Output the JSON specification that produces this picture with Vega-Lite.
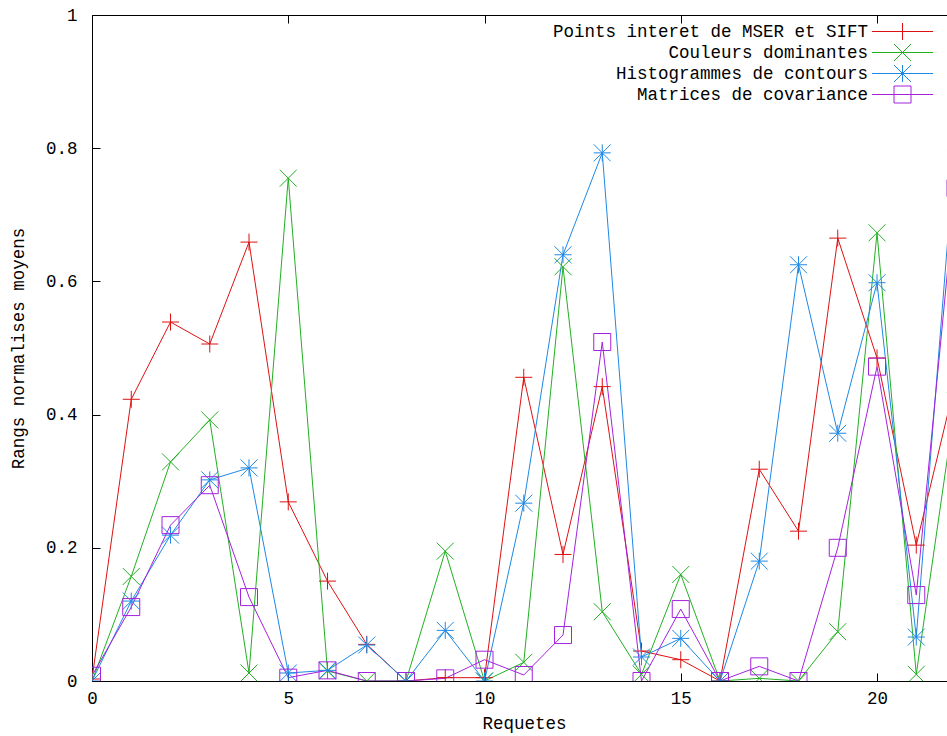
{
  "$schema": "https://vega.github.io/schema/vega-lite/v6.json",
  "autosize": {"type": "none"},
  "padding": {"left": 92, "top": 15, "right": 0, "bottom": 55},
  "width": 855,
  "height": 666,
  "background": "white",
  "data": {"values": [
    {"s": "Points interet de MSER et SIFT", "x": 0, "y": 0.003},
    {"s": "Points interet de MSER et SIFT", "x": 1, "y": 0.423},
    {"s": "Points interet de MSER et SIFT", "x": 2, "y": 0.539},
    {"s": "Points interet de MSER et SIFT", "x": 3, "y": 0.506},
    {"s": "Points interet de MSER et SIFT", "x": 4, "y": 0.659},
    {"s": "Points interet de MSER et SIFT", "x": 5, "y": 0.269},
    {"s": "Points interet de MSER et SIFT", "x": 6, "y": 0.15},
    {"s": "Points interet de MSER et SIFT", "x": 7, "y": 0.055},
    {"s": "Points interet de MSER et SIFT", "x": 8, "y": 0.0},
    {"s": "Points interet de MSER et SIFT", "x": 9, "y": 0.005},
    {"s": "Points interet de MSER et SIFT", "x": 10, "y": 0.005},
    {"s": "Points interet de MSER et SIFT", "x": 11, "y": 0.456},
    {"s": "Points interet de MSER et SIFT", "x": 12, "y": 0.19},
    {"s": "Points interet de MSER et SIFT", "x": 13, "y": 0.442},
    {"s": "Points interet de MSER et SIFT", "x": 14, "y": 0.045},
    {"s": "Points interet de MSER et SIFT", "x": 15, "y": 0.032},
    {"s": "Points interet de MSER et SIFT", "x": 16, "y": 0.0},
    {"s": "Points interet de MSER et SIFT", "x": 17, "y": 0.318},
    {"s": "Points interet de MSER et SIFT", "x": 18, "y": 0.225},
    {"s": "Points interet de MSER et SIFT", "x": 19, "y": 0.665},
    {"s": "Points interet de MSER et SIFT", "x": 20, "y": 0.485},
    {"s": "Points interet de MSER et SIFT", "x": 21, "y": 0.204},
    {"s": "Points interet de MSER et SIFT", "x": 22, "y": 0.45},
    {"s": "Couleurs dominantes", "x": 0, "y": 0.0},
    {"s": "Couleurs dominantes", "x": 1, "y": 0.157},
    {"s": "Couleurs dominantes", "x": 2, "y": 0.329},
    {"s": "Couleurs dominantes", "x": 3, "y": 0.392},
    {"s": "Couleurs dominantes", "x": 4, "y": 0.012},
    {"s": "Couleurs dominantes", "x": 5, "y": 0.755},
    {"s": "Couleurs dominantes", "x": 6, "y": 0.015},
    {"s": "Couleurs dominantes", "x": 7, "y": 0.0},
    {"s": "Couleurs dominantes", "x": 8, "y": 0.0},
    {"s": "Couleurs dominantes", "x": 9, "y": 0.195},
    {"s": "Couleurs dominantes", "x": 10, "y": 0.0},
    {"s": "Couleurs dominantes", "x": 11, "y": 0.028},
    {"s": "Couleurs dominantes", "x": 12, "y": 0.622},
    {"s": "Couleurs dominantes", "x": 13, "y": 0.104},
    {"s": "Couleurs dominantes", "x": 14, "y": 0.01},
    {"s": "Couleurs dominantes", "x": 15, "y": 0.16},
    {"s": "Couleurs dominantes", "x": 16, "y": 0.0},
    {"s": "Couleurs dominantes", "x": 17, "y": 0.004},
    {"s": "Couleurs dominantes", "x": 18, "y": 0.0},
    {"s": "Couleurs dominantes", "x": 19, "y": 0.074},
    {"s": "Couleurs dominantes", "x": 20, "y": 0.673},
    {"s": "Couleurs dominantes", "x": 21, "y": 0.01},
    {"s": "Couleurs dominantes", "x": 22, "y": 0.42},
    {"s": "Histogrammes de contours", "x": 0, "y": 0.0},
    {"s": "Histogrammes de contours", "x": 1, "y": 0.12},
    {"s": "Histogrammes de contours", "x": 2, "y": 0.219},
    {"s": "Histogrammes de contours", "x": 3, "y": 0.302},
    {"s": "Histogrammes de contours", "x": 4, "y": 0.32},
    {"s": "Histogrammes de contours", "x": 5, "y": 0.012},
    {"s": "Histogrammes de contours", "x": 6, "y": 0.016},
    {"s": "Histogrammes de contours", "x": 7, "y": 0.054},
    {"s": "Histogrammes de contours", "x": 8, "y": 0.0},
    {"s": "Histogrammes de contours", "x": 9, "y": 0.076},
    {"s": "Histogrammes de contours", "x": 10, "y": 0.0},
    {"s": "Histogrammes de contours", "x": 11, "y": 0.267},
    {"s": "Histogrammes de contours", "x": 12, "y": 0.64},
    {"s": "Histogrammes de contours", "x": 13, "y": 0.793},
    {"s": "Histogrammes de contours", "x": 14, "y": 0.036},
    {"s": "Histogrammes de contours", "x": 15, "y": 0.064},
    {"s": "Histogrammes de contours", "x": 16, "y": 0.0},
    {"s": "Histogrammes de contours", "x": 17, "y": 0.18},
    {"s": "Histogrammes de contours", "x": 18, "y": 0.625},
    {"s": "Histogrammes de contours", "x": 19, "y": 0.372},
    {"s": "Histogrammes de contours", "x": 20, "y": 0.598},
    {"s": "Histogrammes de contours", "x": 21, "y": 0.066},
    {"s": "Histogrammes de contours", "x": 22, "y": 0.81},
    {"s": "Matrices de covariance", "x": 0, "y": 0.008},
    {"s": "Matrices de covariance", "x": 1, "y": 0.111},
    {"s": "Matrices de covariance", "x": 2, "y": 0.234},
    {"s": "Matrices de covariance", "x": 3, "y": 0.294},
    {"s": "Matrices de covariance", "x": 4, "y": 0.126},
    {"s": "Matrices de covariance", "x": 5, "y": 0.005},
    {"s": "Matrices de covariance", "x": 6, "y": 0.016},
    {"s": "Matrices de covariance", "x": 7, "y": 0.0},
    {"s": "Matrices de covariance", "x": 8, "y": 0.0},
    {"s": "Matrices de covariance", "x": 9, "y": 0.004},
    {"s": "Matrices de covariance", "x": 10, "y": 0.032},
    {"s": "Matrices de covariance", "x": 11, "y": 0.009},
    {"s": "Matrices de covariance", "x": 12, "y": 0.069},
    {"s": "Matrices de covariance", "x": 13, "y": 0.509},
    {"s": "Matrices de covariance", "x": 14, "y": 0.0},
    {"s": "Matrices de covariance", "x": 15, "y": 0.108},
    {"s": "Matrices de covariance", "x": 16, "y": 0.0},
    {"s": "Matrices de covariance", "x": 17, "y": 0.022},
    {"s": "Matrices de covariance", "x": 18, "y": 0.0},
    {"s": "Matrices de covariance", "x": 19, "y": 0.2},
    {"s": "Matrices de covariance", "x": 20, "y": 0.472},
    {"s": "Matrices de covariance", "x": 21, "y": 0.129},
    {"s": "Matrices de covariance", "x": 22, "y": 0.74}
  ]},
  "encoding": {
    "y": {
      "field": "y", "type": "quantitative",
      "scale": {"domain": [0, 1], "nice": false, "zero": true},
      "axis": {
        "values": [0, 0.2, 0.4, 0.6, 0.8, 1],
        "format": "~g",
        "title": "Rangs normalises moyens",
        "labelPadding": 23,
        "labelFlush": false,
        "titleX": -74,
        "titleY": 333,
        "titleAngle": -90,
        "titleAlign": "center",
        "titleBaseline": "middle"
      }
    }
  },
  "layer": [
    {
      "mark": {"type": "line", "strokeWidth": 1, "clip": true},
      "encoding": {
        "x": {
          "field": "x", "type": "quantitative",
          "scale": {"domain": [0, 21.783], "nice": false, "zero": true},
          "axis": {
            "orient": "bottom",
            "values": [0, 5, 10, 15, 20],
            "format": "d",
            "title": "Requetes",
            "labelPadding": 16.5,
            "labelFlush": false,
            "labelOverlap": false,
            "titleX": 432,
            "titleY": 42,
            "titleAlign": "center",
            "titleBaseline": "middle"
          }
        },
        "color": {
          "field": "s", "type": "nominal",
          "scale": {
            "domain": ["Points interet de MSER et SIFT", "Couleurs dominantes", "Histogrammes de contours", "Matrices de covariance"],
            "range": ["#dd1111", "#22b022", "#1e88e5", "#a422dd"]
          },
          "legend": {
            "orient": "none",
            "legendX": 801.5,
            "legendY": 7.5,
            "title": null,
            "direction": "vertical",
            "columns": 1,
            "padding": 0,
            "rowPadding": -1,
            "symbolSize": 289,
            "symbolStrokeWidth": 1,
            "symbolFillColor": "transparent",
            "symbolOpacity": 1,
            "symbolType": {"expr": "datum.value === 'Points interet de MSER et SIFT' ? 'M-3.6,0H3.6M0,-1V1' : datum.value === 'Couleurs dominantes' ? 'M-3.6,0H3.6M-1,-1L1,1M-1,1L1,-1' : datum.value === 'Histogrammes de contours' ? 'M-3.6,0H3.6M0,-1V1M-1,-1L1,1M-1,1L1,-1' : 'M-3.6,0H3.6M-1,-1H1V1H-1Z'"},
            "labelAlign": "right",
            "labelOffset": -43.5,
            "labelLimit": 1000,
            "labelFont": "Liberation Mono",
            "labelFontSize": 17.5,
            "labelColor": "black"
          }
        }
      }
    },
    {
      "transform": [{"filter": "datum.s === 'Points interet de MSER et SIFT'"}],
      "mark": {"type": "point", "filled": false, "size": 289, "strokeWidth": 1, "opacity": 1, "clip": true, "shape": "M-1,0H1M0,-1V1"},
      "encoding": {
        "x": {
          "field": "x", "type": "quantitative",
          "scale": {"domain": [0, 21.783], "nice": false, "zero": true},
          "axis": {"orient": "top", "values": [0, 5, 10, 15, 20], "labels": false, "title": null}
        },
        "color": {"field": "s", "type": "nominal", "legend": null}
      }
    },
    {
      "transform": [{"filter": "datum.s === 'Couleurs dominantes'"}],
      "mark": {"type": "point", "filled": false, "size": 289, "strokeWidth": 1, "opacity": 1, "clip": true, "shape": "M-1,-1L1,1M-1,1L1,-1"},
      "encoding": {
        "x": {"field": "x", "type": "quantitative", "axis": null},
        "color": {"field": "s", "type": "nominal", "legend": null}
      }
    },
    {
      "transform": [{"filter": "datum.s === 'Histogrammes de contours'"}],
      "mark": {"type": "point", "filled": false, "size": 289, "strokeWidth": 1, "opacity": 1, "clip": true, "shape": "M-1,0H1M0,-1V1M-1,-1L1,1M-1,1L1,-1"},
      "encoding": {
        "x": {"field": "x", "type": "quantitative", "axis": null},
        "color": {"field": "s", "type": "nominal", "legend": null}
      }
    },
    {
      "transform": [{"filter": "datum.s === 'Matrices de covariance'"}],
      "mark": {"type": "point", "filled": false, "size": 289, "strokeWidth": 1, "opacity": 1, "clip": true, "shape": "M-1,-1H1V1H-1Z"},
      "encoding": {
        "x": {"field": "x", "type": "quantitative", "axis": null},
        "color": {"field": "s", "type": "nominal", "legend": null}
      }
    }
  ],
  "resolve": {"axis": {"x": "independent"}},
  "config": {
    "view": {"stroke": null},
    "font": "Liberation Mono",
    "legend": {"rowPadding": -1, "padding": 0},
    "axis": {
      "grid": false,
      "domainColor": "black",
      "domainWidth": 1,
      "tickColor": "black",
      "tickWidth": 1,
      "tickSize": -8,
      "labelFont": "Liberation Mono",
      "labelFontSize": 17.5,
      "labelColor": "black",
      "titleFont": "Liberation Mono",
      "titleFontSize": 17.5,
      "titleFontWeight": "normal",
      "titleColor": "black"
    }
  }
}
